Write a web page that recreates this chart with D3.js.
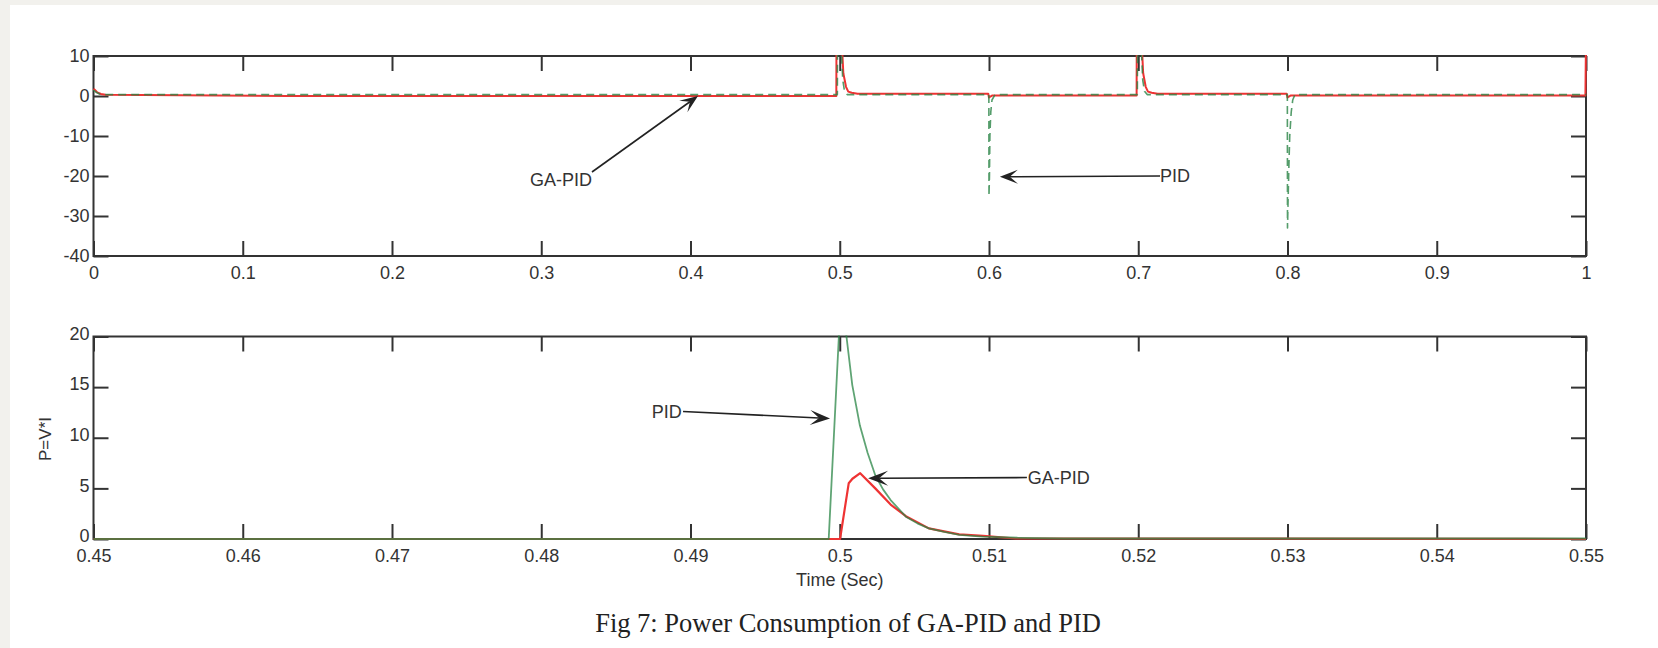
<!DOCTYPE html>
<html><head><meta charset="utf-8">
<script src="https://cdn.jsdelivr.net/npm/d3@7"></script>
<style>
html,body{margin:0;padding:0;background:#f2f1ed;overflow:hidden;}
svg{display:block;}
</style></head><body>
<svg id="chart" width="1658" height="648"></svg>
<script>
// ---------------- DATA ----------------
// Top panel (full simulation 0..1 s)
const topXTicks = [0, 0.1, 0.2, 0.3, 0.4, 0.5, 0.6, 0.7, 0.8, 0.9, 1];
const topXLabels = ["0", "0.1", "0.2", "0.3", "0.4", "0.5", "0.6", "0.7", "0.8", "0.9", "1"];
const topYTicks = [-40, -30, -20, -10, 0, 10];
const topYLabels = ["-40", "-30", "-20", "-10", "0", "10"];

const topGaTime = [0, 0.001, 0.0025, 0.005, 0.008, 0.13, 0.4977, 0.4978, 0.5013, 0.5024, 0.5042, 0.5057, 0.508, 0.512,
  0.5995, 0.6, 0.6006, 0.602, 0.6989, 0.699, 0.7022, 0.7033, 0.705, 0.7065, 0.709, 0.713,
  0.7995, 0.8, 0.8006, 0.802, 0.9996, 1.0];
const topGaValue = [1.8, 1.5, 0.9, 0.5, 0.3, 0, 0, 14, 14, 5.7, 2.3, 1.1, 0.8, 0.55,
  0.55, -0.4, -0.2, 0.1, 0.1, 14, 14, 5.7, 2.3, 1.1, 0.8, 0.55,
  0.55, -0.4, -0.2, 0.1, 0.1, 14];

const topPidTime = [0, 0.0015, 0.004, 0.007, 0.4984, 0.4985, 0.5008, 0.502, 0.5032, 0.505,
  0.5999, 0.6, 0.6003, 0.6006, 0.6012, 0.602, 0.604, 0.6994, 0.6995, 0.7018, 0.703, 0.7042, 0.706,
  0.7999, 0.8, 0.8004, 0.8009, 0.8015, 0.8025, 0.8035, 0.805, 1.0];
const topPidValue = [1.5, 1.0, 0.5, 0.35, 0.35, 14, 14, 4, 1.2, 0.35,
  0.35, -25, -20, -10, -4, -1, 0.35, 0.35, 14, 14, 4, 1.2, 0.35,
  0.35, -33, -26, -18, -10, -4, -1, 0.35, 0.35];

// Bottom panel (zoom 0.45..0.55 s)
const botXTicks = [0.45, 0.46, 0.47, 0.48, 0.49, 0.5, 0.51, 0.52, 0.53, 0.54, 0.55];
const botXLabels = ["0.45", "0.46", "0.47", "0.48", "0.49", "0.5", "0.51", "0.52", "0.53", "0.54", "0.55"];
const botYTicks = [0, 5, 10, 15, 20];
const botYLabels = ["0", "5", "10", "15", "20"];

const botPidTime = [0.45, 0.49926, 0.50006, 0.50045, 0.50084, 0.50135, 0.50187, 0.50238, 0.5029, 0.50341,
  0.50443, 0.5052, 0.50597, 0.507, 0.50802, 0.50956, 0.512, 0.515, 0.55];
const botPidValue = [0, 0, 23.5, 20, 15.2, 11.2, 8.5, 6.3, 4.9, 3.85,
  2.2, 1.55, 1.05, 0.7, 0.4, 0.23, 0.12, 0.05, 0.05];

const botGaTime = [0.45, 0.50002, 0.5006, 0.50085, 0.50137, 0.50238, 0.50341, 0.50443, 0.50597, 0.508, 0.5096, 0.5118, 0.55];
const botGaValue = [0, 0, 5.5, 5.95, 6.5, 5.0, 3.4, 2.25, 1.05, 0.45, 0.3, 0.05, 0];

// Annotations (data coordinates)
const topAnnLabels = ["GA-PID", "PID"];
const topAnnTextPos = [[0.3132, -21], [0.7146, -20]];
const topAnnAnchor = ["middle", "start"];
const topAnnFrom = [[0.334, -19], [0.7146, -20]];
const topAnnTo = [[0.405, 0], [0.6073, -20.2]];

const botAnnLabels = ["PID", "GA-PID"];
const botAnnTextPos = [[0.4874, 12.57], [0.5126, 6.07]];
const botAnnAnchor = ["start", "start"];
const botAnnFrom = [[0.4895, 12.6], [0.51254, 6.07]];
const botAnnTo = [[0.49935, 11.9], [0.5019, 6.0]];

const xTitle = "Time (Sec)";
const yTitleBottom = "P=V*I";
const caption = "Fig 7: Power Consumption of GA-PID and PID";

// ---------------- LAYOUT ----------------
const plotLeft = 93.5, plotRight = 1586;
const p1 = {top: 56, bottom: 256};
const p2 = {top: 336.5, bottom: 539};
const tickLen = 15;
const axisColor = "#333";
const fontSans = "'Liberation Sans', Arial, Helvetica, sans-serif";
const redColor = "#ee3333";
const greenColor = "#2a8546";

const svg = d3.select("#chart");
svg.append("rect").attr("x", 10).attr("y", 5).attr("width", 1648).attr("height", 643).attr("fill", "#ffffff");

const defs = svg.append("defs");

function zip(a, b) { return a.map((v, i) => [v, b[i]]); }

function drawPanel(id, cfg) {
  const x = d3.scaleLinear().domain(cfg.xDomain).range([plotLeft, plotRight]);
  const y = d3.scaleLinear().domain(cfg.yDomain).range([cfg.bottom, cfg.top]);
  const g = svg.append("g").attr("class", id);

  defs.append("clipPath").attr("id", "clip-" + id)
    .append("rect").attr("x", plotLeft - 1).attr("y", cfg.top - 1)
    .attr("width", plotRight - plotLeft + 2).attr("height", cfg.bottom - cfg.top + 2);

  // frame
  g.append("rect").attr("x", plotLeft).attr("y", cfg.top)
    .attr("width", plotRight - plotLeft).attr("height", cfg.bottom - cfg.top)
    .attr("fill", "#fff").attr("stroke", axisColor).attr("stroke-width", 2);

  // axes
  const fmtX = v => cfg.xLabels[cfg.xTicks.indexOf(v)];
  const fmtY = v => cfg.yLabels[cfg.yTicks.indexOf(v)];
  const axB = g.append("g").attr("transform", `translate(0,${cfg.bottom})`)
    .call(d3.axisBottom(x).tickValues(cfg.xTicks).tickFormat(fmtX).tickSize(-tickLen).tickPadding(cfg.xPad));
  const axT = g.append("g").attr("transform", `translate(0,${cfg.top})`)
    .call(d3.axisTop(x).tickValues(cfg.xTicks).tickFormat(() => "").tickSize(-tickLen));
  const axL = g.append("g").attr("transform", `translate(${plotLeft},0)`)
    .call(d3.axisLeft(y).tickValues(cfg.yTicks).tickFormat(fmtY).tickSize(-tickLen).tickPadding(4));
  const axR = g.append("g").attr("transform", `translate(${plotRight},0)`)
    .call(d3.axisRight(y).tickValues(cfg.yTicks).tickFormat(() => "").tickSize(-tickLen));
  [axB, axT, axL, axR].forEach(a => {
    a.select(".domain").remove();
    a.selectAll(".tick line").attr("stroke", axisColor).attr("stroke-width", 2);
    a.selectAll(".tick text").attr("fill", axisColor).attr("font-size", 18).attr("font-family", fontSans);
  });
  axL.selectAll(".tick text").attr("y", cfg.yLabelShift);

  // series
  const line = d3.line().x(d => x(d[0])).y(d => y(d[1]));
  const lg = g.append("g").attr("clip-path", `url(#clip-${id})`);
  cfg.series.forEach(s => {
    lg.append("path").attr("d", line(s.data)).attr("fill", "none")
      .attr("stroke", s.color).attr("stroke-width", s.width)
      .attr("stroke-opacity", s.opacity || 1)
      .attr("stroke-dasharray", s.dash || null)
      .attr("stroke-linejoin", "round");
  });

  // annotations
  cfg.ann.labels.forEach((lab, i) => {
    const [tx, ty] = cfg.ann.textPos[i];
    g.append("text").attr("x", x(tx)).attr("y", y(ty)).attr("dy", "0.35em")
      .attr("text-anchor", cfg.ann.anchor[i])
      .attr("font-size", 18).attr("font-family", fontSans).attr("fill", "#333")
      .text(lab);
    const x1 = x(cfg.ann.from[i][0]), y1 = y(cfg.ann.from[i][1]);
    const x2 = x(cfg.ann.to[i][0]), y2 = y(cfg.ann.to[i][1]);
    const a = Math.atan2(y2 - y1, x2 - x1);
    const L = cfg.headL, Wd = cfg.headW;
    const ux = Math.cos(a), uy = Math.sin(a), px = -uy, py = ux;
    const nx = x2 - ux * L * 0.55, ny = y2 - uy * L * 0.55;
    g.append("line").attr("x1", x1).attr("y1", y1).attr("x2", nx).attr("y2", ny)
      .attr("stroke", "#222").attr("stroke-width", 1.6);
    const p = d3.path();
    p.moveTo(x2, y2);
    p.lineTo(x2 - ux * L + px * Wd / 2, y2 - uy * L + py * Wd / 2);
    p.lineTo(nx, ny);
    p.lineTo(x2 - ux * L - px * Wd / 2, y2 - uy * L - py * Wd / 2);
    p.closePath();
    g.append("path").attr("d", p.toString()).attr("fill", "#222");
  });
  return {x, y};
}

drawPanel("top", {
  xDomain: [0, 1], yDomain: [-40, 10], top: p1.top, bottom: p1.bottom,
  xTicks: topXTicks, xLabels: topXLabels, yTicks: topYTicks, yLabels: topYLabels, xPad: 10, yLabelShift: 0,
  series: [
    {data: zip(topGaTime, topGaValue), color: redColor, width: 2},
    {data: zip(topPidTime, topPidValue), color: greenColor, width: 1.6, dash: "8,5", opacity: 0.8}
  ],
  ann: {labels: topAnnLabels, textPos: topAnnTextPos, anchor: topAnnAnchor, from: topAnnFrom, to: topAnnTo},
  headL: 18, headW: 14
});

const bp = drawPanel("bottom", {
  xDomain: [0.45, 0.55], yDomain: [0, 20], top: p2.top, bottom: p2.bottom,
  xTicks: botXTicks, xLabels: botXLabels, yTicks: botYTicks, yLabels: botYLabels, xPad: 10, yLabelShift: -3,
  series: [
    {data: zip(botGaTime, botGaValue), color: redColor, width: 2.2},
    {data: zip(botPidTime, botPidValue), color: greenColor, width: 1.8, opacity: 0.75}
  ],
  ann: {labels: botAnnLabels, textPos: botAnnTextPos, anchor: botAnnAnchor, from: botAnnFrom, to: botAnnTo},
  headL: 20, headW: 15
});

// titles
svg.append("text").attr("x", bp.x(0.5)).attr("y", 586).attr("text-anchor", "middle")
  .attr("font-size", 18).attr("font-family", fontSans).attr("fill", "#333").text(xTitle);
svg.append("text").attr("transform", "translate(45,439) rotate(-90)").attr("dy", "0.35em")
  .attr("text-anchor", "middle").attr("font-size", 17).attr("font-family", fontSans).attr("fill", "#333")
  .text(yTitleBottom);
svg.append("text").attr("x", 848).attr("y", 632).attr("text-anchor", "middle")
  .attr("font-size", 26.5).attr("font-family", "'Liberation Serif', 'Times New Roman', serif").attr("fill", "#222")
  .text(caption);
</script>
</body></html>
